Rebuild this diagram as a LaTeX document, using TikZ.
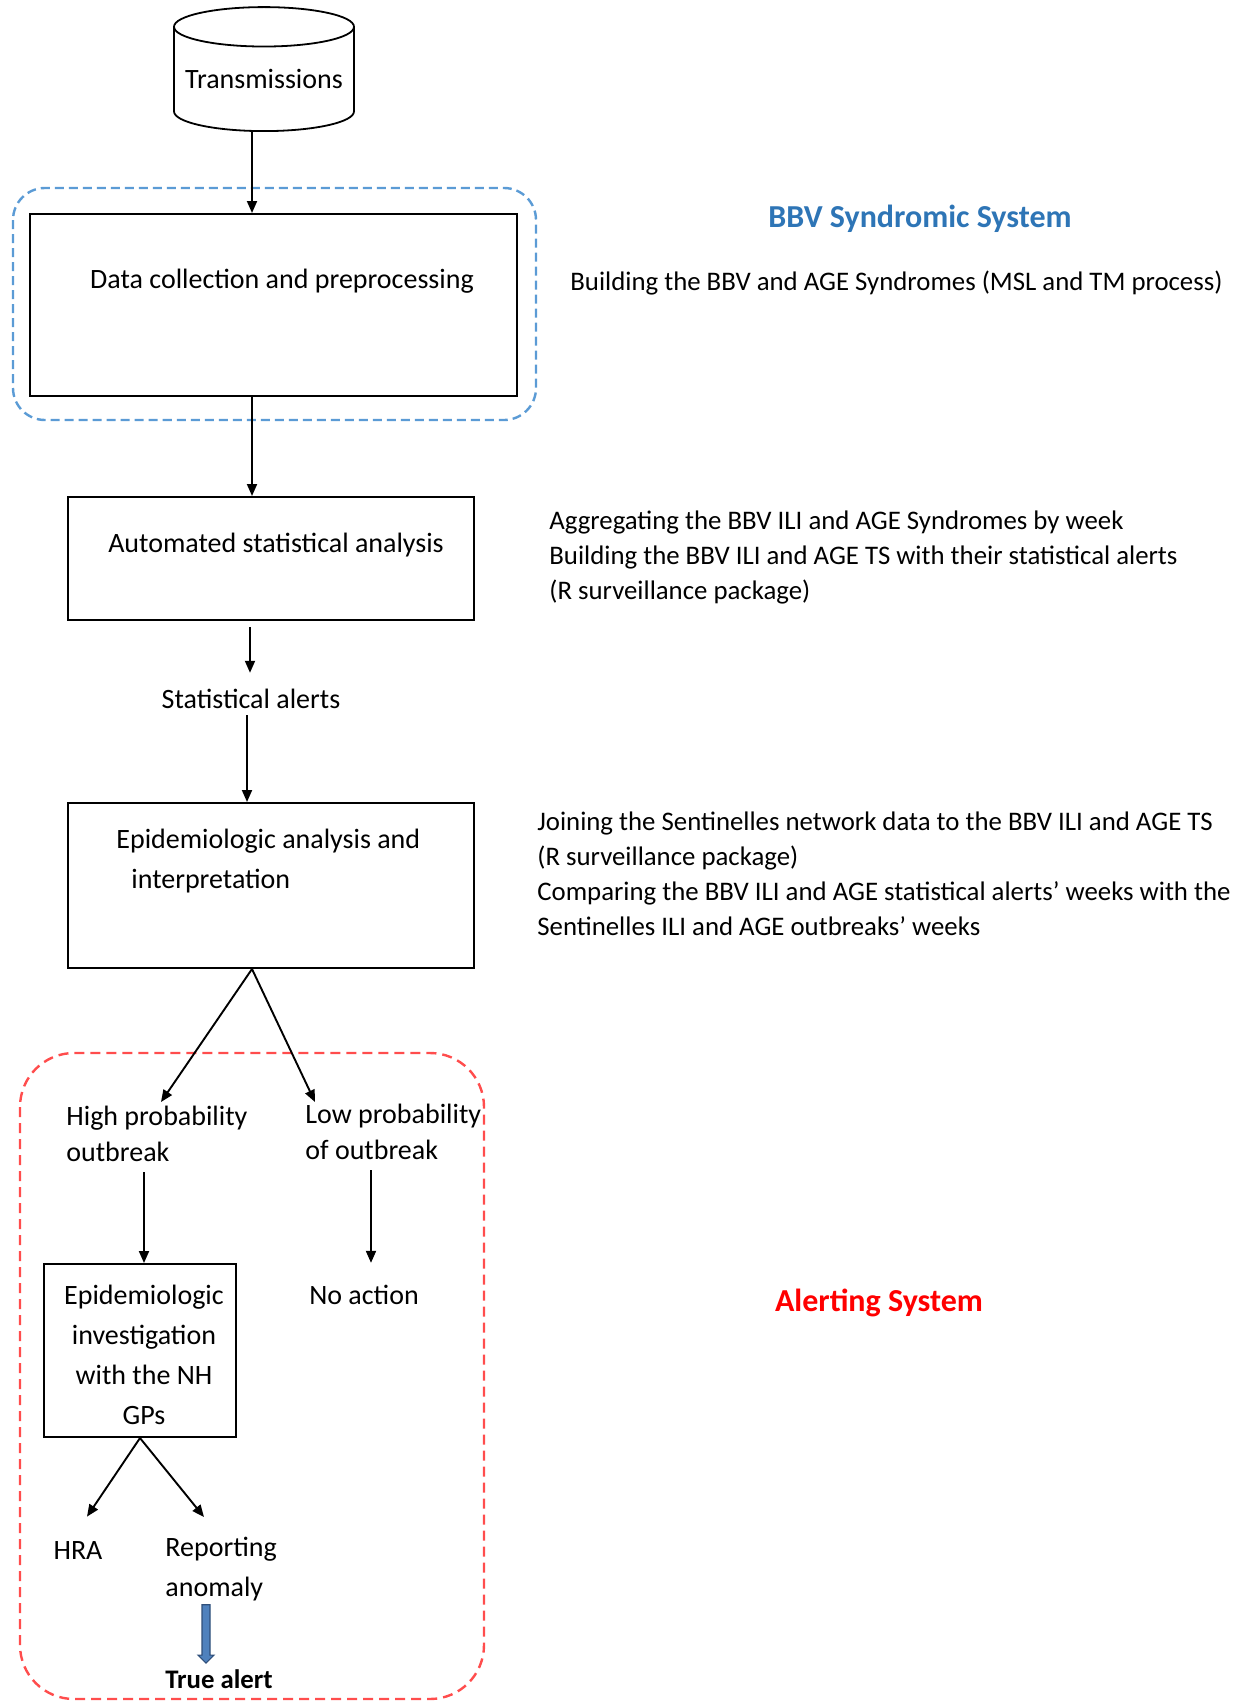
\documentclass[tikz,border=0pt]{standalone}
\usepackage{fontspec}
\setmainfont{Carlito}
\usepackage{tikz}
\usetikzlibrary{positioning,arrows.meta,calc,shapes.geometric}
\definecolor{BBVblue}{HTML}{2E75B6}
\definecolor{BBVframe}{HTML}{5B9BD5}
\definecolor{ALRred}{HTML}{FF0000}
\definecolor{ALRframe}{HTML}{FF4D4D}
\definecolor{ALRarrow}{HTML}{4F81BD}
\definecolor{ALRarrowDark}{HTML}{2F4F7A}
\newcommand{\flowfont}{\fontsize{14}{20}\selectfont}
\newcommand{\notefont}{\fontsize{13.4}{17.5}\selectfont}
\newcommand{\headfont}{\fontsize{16}{19}\selectfont\bfseries}
\tikzset{
  procbox/.style={draw=black, line width=1pt, inner sep=0pt, font=\flowfont, align=center},
  dbcyl/.style={cylinder, shape border rotate=90, shape aspect=0.25, draw=black, line width=0.9pt, font=\flowfont, inner sep=0pt},
  flowtxt/.style={font=\flowfont, inner sep=0pt, align=left},
  notetxt/.style={font=\notefont, inner sep=0pt, align=left, anchor=north west},
  headtxt/.style={font=\headfont, inner sep=0pt},
  flowarr/.style={-{Triangle[length=6pt,width=5pt]}, line width=0.95pt, draw=black},
  syndframe/.style={draw=BBVframe, line width=1.2pt, dash pattern=on 4.5pt off 2.5pt, rounded corners=16pt},
  alertframe/.style={draw=ALRframe, line width=1.2pt, dash pattern=on 5pt off 3pt, rounded corners=27pt},
  blockarr/.style={fill=ALRarrow, draw=ALRarrowDark, line width=0.6pt}
}

\begin{document}
\begin{tikzpicture}[x=0.5pt, y=-0.5pt]
  \useasboundingbox (0,0) rectangle (1247,1702);
  % syndromic part
  \node[dbcyl, minimum width=90pt, minimum height=62pt, anchor=south] (trans) at (264,132) {Transmissions};
  \draw[syndframe] (13,188) rectangle (536,420);
  \node[procbox, minimum width=243.5pt, minimum height=91pt] (collect) at (273.5,305) {};
  \node[flowtxt] (collecttxt) at (282,281) {Data collection and preprocessing};
  \node[procbox, minimum width=203pt, minimum height=61.5pt] (auto) at (271,558.5) {};
  \node[flowtxt] (autotxt) at (276,545) {Automated statistical analysis};
  \node[flowtxt] (stat) at (251,699) {Statistical alerts};
  \node[procbox, minimum width=203pt, minimum height=82.5pt] (epi) at (271,885.5) {};
  \node[flowtxt, anchor=north west] (epitxt) at (116,829) {Epidemiologic analysis and\\\hspace*{7.5pt}interpretation};
  % alerting part
  \draw[alertframe] (20,1053) rectangle (484,1699);
  \node[flowtxt, anchor=north west] (high) at (66,1106) {High probability\\[-2pt]outbreak};
  \node[flowtxt, anchor=north west] (low) at (305,1104) {Low probability\\[-2pt]of outbreak};
  \node[procbox, minimum width=96pt, minimum height=86.5pt] (invest) at (140,1350.5) {};
  \node[flowtxt, align=center] (investtxt) at (144,1355) {Epidemiologic\\investigation\\with the NH\\GPs};
  \node[flowtxt] (noact) at (364,1295) {No action};
  \node[flowtxt] (hra) at (78,1550) {HRA};
  \node[flowtxt, anchor=north west] (report) at (165,1537) {Reporting\\anomaly};
  \node[flowtxt, font=\fontsize{13.4}{16}\selectfont\bfseries] (tru) at (219,1679) {True alert};
  % notes on the right
  \node[headtxt, text=BBVblue] (synd) at (920,219) {BBV Syndromic System};
  \node[notetxt, anchor=west] (note1) at (570,283) {Building the BBV and AGE Syndromes (MSL and TM process)};
  \node[notetxt] (note2) at (549,510) {Aggregating the BBV ILI and AGE Syndromes by week\\Building the BBV ILI and AGE TS with their statistical alerts\\(R surveillance package)};
  \node[notetxt] (note3) at (537,811) {Joining the Sentinelles network data to the BBV ILI and AGE TS\\(R surveillance package)\\Comparing the BBV ILI and AGE statistical alerts’ weeks with the\\Sentinelles ILI and AGE outbreaks’ weeks};
  \node[headtxt, text=ALRred] (alert) at (879,1303) {Alerting System};
  % connectors
  \coordinate (axA) at (252,0);
  \coordinate (axB) at (250,0);
  \coordinate (axC) at (247,0);
  \coordinate (axD) at (144,0);
  \coordinate (axE) at (371,0);
  \coordinate (axF) at (206,0);
  \draw[flowarr] (trans.south -| axA) -- (collect.north -| axA);
  \draw[flowarr] (collect.south -| axA) -- (auto.north -| axA);
  \draw[flowarr, shorten <=3pt, shorten >=8pt] (auto.south -| axB) -- (stat.north -| axB);
  \draw[flowarr, shorten <=3pt] (stat.south -| axC) -- (epi.north -| axC);
  \draw[flowarr] (epi.south -| axA) -- ($(high.north west)+(95,-4)$);
  \draw[flowarr] (epi.south -| axA) -- ($(low.north west)+(10,-2)$);
  \draw[flowarr, shorten <=5pt] (high.south -| axD) -- (invest.north -| axD);
  \draw[flowarr, shorten <=5pt, shorten >=11pt] (low.south -| axE) -- (noact.north -| axE);
  \draw[flowarr] (invest.south) -- ($(hra.north)+(9,-24)$);
  \draw[flowarr] (invest.south) -- ($(report.north west)+(39,-20)$);
  \draw[blockarr] let \p1=(report.south -| axF), \p2=(tru.north -| axF) in
    (\x1-2pt,\y1-1.5pt) -- (\x1+2pt,\y1-1.5pt) -- (\x2+2pt,\y2+7pt) -- (\x2+4pt,\y2+7pt)
    -- (\x2,\y2+3pt) -- (\x2-4pt,\y2+7pt) -- (\x2-2pt,\y2+7pt) -- cycle;
\end{tikzpicture}
\end{document}
